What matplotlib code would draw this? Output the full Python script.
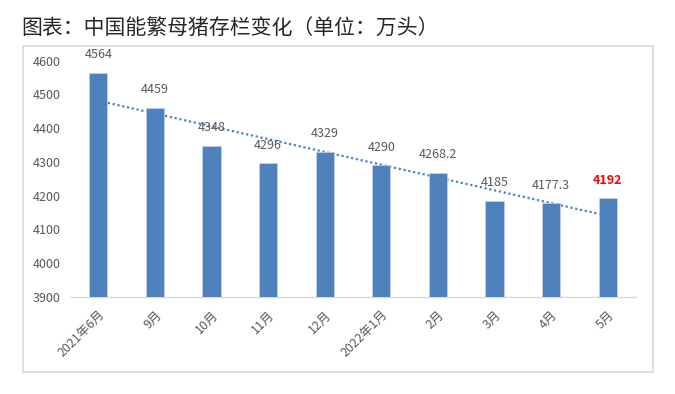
import matplotlib
matplotlib.use("Agg")
import matplotlib.pyplot as plt
import numpy as np
from matplotlib.patches import Rectangle

plt.rcParams['font.family'] = ['Noto Sans CJK SC', 'DejaVu Sans']

categories = ["2021年6月", "9月", "10月", "11月", "12月", "2022年1月", "2月", "3月", "4月", "5月"]
values = [4564, 4459, 4348, 4296, 4329, 4290, 4268.2, 4185, 4177.3, 4192]
label_texts = ["4564", "4459", "4348", "4296", "4329", "4290", "4268.2", "4185", "4177.3", "4192"]
yticks = [3900, 4000, 4100, 4200, 4300, 4400, 4500, 4600]
title = "图表：中国能繁母猪存栏变化（单位：万头）"

fig = plt.figure(figsize=(6.75, 3.94), dpi=100)
fig.patch.set_facecolor("white")

# outer frame
fig.patches.append(Rectangle((23/675, 1-372/394), (653-23)/675, (372-46)/394,
                             transform=fig.transFigure, fill=False,
                             edgecolor="#d9d9d9", linewidth=1.2))

fig.text(21/675, 1-29/394, title, fontsize=15, color="#262626", va="center", ha="left")

ax = fig.add_axes([70/675, 1-297/394, (636-70)/675, (297-60.7)/394])
x = np.arange(len(categories))
bars = ax.bar(x, values, width=0.32, color="#4f81bd", edgecolor="#c5d3e8",
              linewidth=0.5, zorder=3)

# linear trendline
coef = np.polyfit(x, values, 1)
ax.plot(x, np.polyval(coef, x), linestyle=(0, (1, 1.2)), color="#4f81bd",
        linewidth=1.6, zorder=2)

for i, (v, t) in enumerate(zip(values, label_texts)):
    last = i == len(values) - 1
    ax.annotate(t, (x[i], v), xytext=(0, 8.5), textcoords="offset points",
                ha="center", va="bottom", fontsize=9,
                color="#ff0000" if last else "#595959",
                fontweight="bold" if last else "normal")

ax.set_ylim(3900, 4600)
ax.set_xlim(-0.5, len(categories) - 0.5)
ax.set_yticks(yticks)
ax.set_yticklabels([str(t) for t in yticks], fontsize=9, color="#595959")
ax.set_xticks(x)
ax.set_xticklabels(categories, rotation=45, ha="right", rotation_mode="anchor",
                   fontsize=9, color="#595959")
ax.tick_params(axis="y", length=0, pad=7)
ax.tick_params(axis="x", length=0, pad=8)
for s in ["top", "right", "left"]:
    ax.spines[s].set_visible(False)
ax.spines["bottom"].set_color("#d9d9d9")
ax.spines["bottom"].set_linewidth(1.0)
ax.set_facecolor("white")

fig.savefig("out.png", dpi=100, facecolor="white")
